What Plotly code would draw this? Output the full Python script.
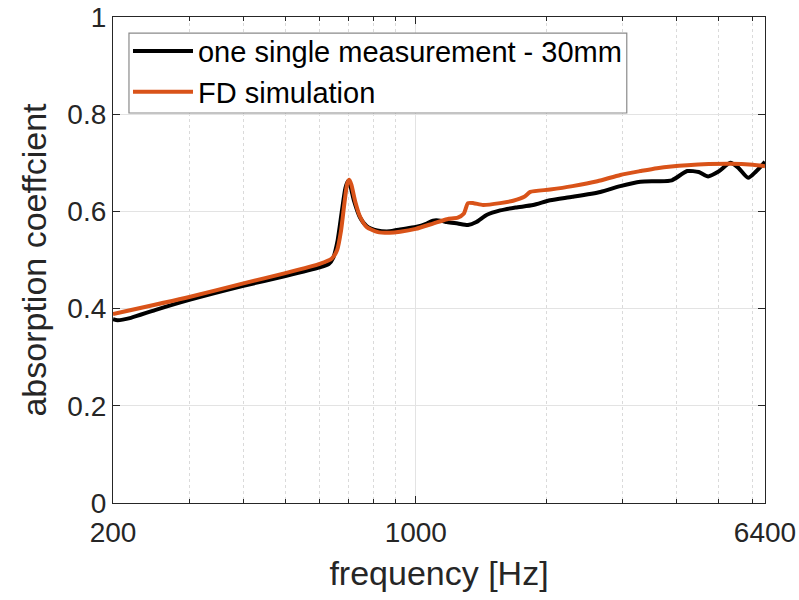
import plotly.graph_objects as go

# ---- data ----
meas_freq = [200, 205, 220, 250, 300, 400, 500, 600, 630, 645, 660, 675, 688, 697, 705, 720, 743, 770,
             814, 870, 920, 1000, 1060, 1096, 1140, 1181, 1250, 1320, 1380, 1460, 1566, 1700, 1866,
             2043, 2300, 2668, 2966, 3300, 3606, 3900, 4233, 4500, 4730, 5000, 5322, 5550, 5853,
             6100, 6400]
meas_alpha = [0.378, 0.376, 0.381, 0.397, 0.418, 0.447, 0.467, 0.485, 0.492, 0.505, 0.54, 0.6,
              0.648, 0.662, 0.655, 0.622, 0.588, 0.57, 0.561, 0.559, 0.563, 0.568, 0.575, 0.581,
              0.581, 0.578, 0.575, 0.572, 0.578, 0.593, 0.602, 0.608, 0.613, 0.623, 0.63, 0.64,
              0.652, 0.661, 0.662, 0.664, 0.683, 0.681, 0.672, 0.682, 0.70, 0.69, 0.669, 0.682,
              0.702]

sim_freq = [200, 300, 400, 500, 600, 640, 658, 672, 685, 695, 702, 710, 725, 743, 770, 814, 870,
            920, 1000, 1096, 1181, 1250, 1290, 1320, 1360, 1430, 1566, 1678, 1780, 1838, 2043,
            2300, 2626, 2966, 3300, 3606, 4233, 5322, 6000, 6400]
sim_alpha = [0.389, 0.424, 0.452, 0.473, 0.492, 0.503, 0.52, 0.56, 0.62, 0.658, 0.665, 0.655,
             0.62, 0.59, 0.568, 0.558, 0.556, 0.558, 0.564, 0.575, 0.584, 0.587, 0.595, 0.617,
             0.617, 0.613, 0.617, 0.622, 0.63, 0.64, 0.645, 0.652, 0.662, 0.675, 0.683, 0.689,
             0.695, 0.698, 0.696, 0.693]

x_ticks = [200, 1000, 6400]
x_tick_labels = ["200", "1000", "6400"]
x_minor = [300, 400, 500, 600, 700, 800, 900, 2000, 3000, 4000, 5000, 6000]
y_ticks = [0, 0.2, 0.4, 0.6, 0.8, 1]
y_tick_labels = ["0", "0.2", "0.4", "0.6", "0.8", "1"]

AX = "#262626"
FONT = "Liberation Sans, Arial, sans-serif"

fig = go.Figure()
fig.add_trace(go.Scatter(x=meas_freq, y=meas_alpha, mode="lines", name="one single measurement - 30mm",
                         line=dict(color="#000000", width=4, shape="spline", smoothing=0.6),
                         legendgroup="a"))
fig.add_trace(go.Scatter(x=sim_freq, y=sim_alpha, mode="lines", name="FD simulation",
                         line=dict(color="#D95319", width=4, shape="spline", smoothing=0.6),
                         legendgroup="b"))

fig.update_layout(
    width=799, height=600,
    margin=dict(l=113, r=34, t=17, b=97, autoexpand=False),
    paper_bgcolor="white", plot_bgcolor="white",
    font=dict(family=FONT, color=AX),
    showlegend=True,
    legend=dict(x=0.023, y=0.982, xanchor="left", yanchor="top",
                bgcolor="rgba(0,0,0,0)", borderwidth=0,
                font=dict(size=29, color="#000000", family=FONT),
                itemwidth=60, tracegroupgap=0),
    shapes=[dict(type="rect", xref="paper", yref="paper",
                 x0=0.0245, x1=0.788, y0=0.8025, y1=0.967,
                 fillcolor="white", line=dict(color="#8a8a8a", width=1.2), layer="above")],
)

fig.update_xaxes(
    type="log", range=[2.30103, 3.80618],
    tickmode="array", tickvals=x_ticks, ticktext=x_tick_labels,
    tickfont=dict(size=28, color=AX), ticklabeloverflow="allow", ticklabelstandoff=4,
    ticks="inside", ticklen=7, tickwidth=1.3, tickcolor=AX,
    showline=True, linecolor=AX, linewidth=1.3, mirror="ticks",
    showgrid=True, gridcolor="#E3E3E3", gridwidth=1,
    zeroline=False, automargin=False,
    minor=dict(tickmode="array", tickvals=x_minor, ticks="inside", ticklen=4, tickcolor=AX,
               showgrid=True, gridcolor="#DADADA", griddash="dot", gridwidth=1),
    title=dict(text="frequency [Hz]", font=dict(size=34, color=AX), standoff=14),
)
fig.update_yaxes(
    range=[0, 1],
    tickmode="array", tickvals=y_ticks, ticktext=y_tick_labels,
    tickfont=dict(size=28, color=AX), ticklabeloverflow="allow",
    ticks="inside", ticklen=7, tickwidth=1.3, tickcolor=AX,
    showline=True, linecolor=AX, linewidth=1.3, mirror="ticks",
    showgrid=True, gridcolor="#E3E3E3", gridwidth=1,
    zeroline=False, automargin=False,
    title=dict(text="absorption coeffcient", font=dict(size=34, color=AX), standoff=10),
)

fig.write_html(
    "out.html",
    config={"displayModeBar": False},
    post_script="document.body.style.margin='0';document.body.style.overflow='hidden';",
)
